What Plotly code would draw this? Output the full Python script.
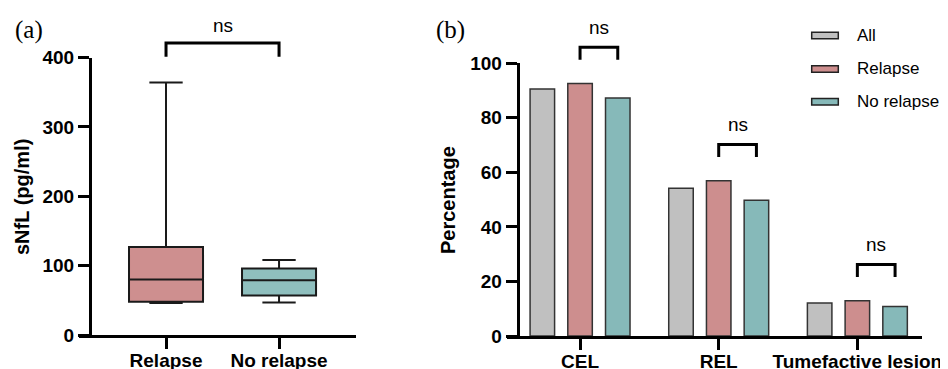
import plotly.graph_objects as go

# The page body has an 8px margin; the figure is sized to the visible area
OFF = 8
W, H = 948 - OFF, 369 - OFF

def px(x):
    return (x - OFF) / W

def py(y):
    return 1 - (y - OFF) / H

# ---------------- data ----------------
box_groups = ["Relapse", "No relapse"]
box_q1 = [48, 57]
box_median = [80, 79]
box_q3 = [127, 96]
box_lower = [46, 47]
box_upper = [364, 108]
box_colors = ["#CE8F8F", "#8FBFBE"]

lesion_types = ["CEL", "REL", "Tumefactive lesion"]
pct_all = [90.6, 54.2, 12.1]
pct_relapse = [92.6, 56.9, 12.9]
pct_norelapse = [87.3, 49.8, 10.8]
series_names = ["All", "Relapse", "No relapse"]
bar_colors = ["#C0C0C0", "#CD8E8E", "#86B9B9"]
bar_series = [pct_all, pct_relapse, pct_norelapse]

a_ticks = [0, 100, 200, 300, 400]
b_ticks = [0, 20, 40, 60, 80, 100]

# ---------------- layout params ----------------
ya_dom = [py(335), py(57.5)]
yb_dom = [py(336), py(63.3)]
ya_rng = [0, 400]
yb_rng = [0, 100]
bargap, bargroupgap = 0.184, 0.35
slot = (1 - bargap) / 3

def ya_paper(v):
    return ya_dom[0] + (v - ya_rng[0]) / (ya_rng[1] - ya_rng[0]) * (ya_dom[1] - ya_dom[0])

def yb_paper(v):
    return yb_dom[0] + (v - yb_rng[0]) / (yb_rng[1] - yb_rng[0]) * (yb_dom[1] - yb_dom[0])

FONT = "Liberation Sans, Arial, sans-serif"
SERIF = "Liberation Serif, Times New Roman, serif"

fig = go.Figure()

for i, g in enumerate(box_groups):
    fig.add_trace(go.Box(
        x=[g], q1=[box_q1[i]], median=[box_median[i]], q3=[box_q3[i]],
        lowerfence=[box_lower[i]], upperfence=[box_upper[i]],
        fillcolor=box_colors[i], line=dict(color="#1a1a1a", width=2),
        width=0.655, whiskerwidth=0.45, boxpoints=False, showlegend=False,
        xaxis="x", yaxis="y", name=g,
    ))

for s, name in enumerate(series_names):
    fig.add_trace(go.Bar(
        x=list(range(len(lesion_types))), y=bar_series[s], name=name,
        marker=dict(color=bar_colors[s], line=dict(color="#333333", width=1.5)),
        xaxis="x2", yaxis="y2", showlegend=False,
    ))

axis_common = dict(
    showline=True, linewidth=3, linecolor="black", ticks="outside", ticklen=11,
    tickwidth=3, tickcolor="black", showgrid=False, zeroline=False, automargin=False,
    tickfont=dict(family=FONT, size=19, color="black", weight="bold"),
)
xaxis_extra = dict(ticklabelstandoff=-5)

shapes = []
annotations = []

# Panel a bracket
shapes.append(dict(type="path", xref="x", yref="paper",
                   path=f"M 0,{ya_paper(401)} L 0,{ya_paper(421)} L 1,{ya_paper(421)} L 1,{ya_paper(401)}",
                   line=dict(color="black", width=3)))
annotations.append(dict(x=0.5, y=ya_paper(446), xref="x", yref="paper", text="ns", showarrow=False,
                        font=dict(family=FONT, size=19, color="black"), xanchor="center", yanchor="middle"))

# Panel b brackets
for i in range(len(lesion_types)):
    top = max(pct_all[i], pct_relapse[i], pct_norelapse[i])
    x0 = i + 0.0
    x1 = i + slot
    leg = yb_paper(top + 8.7)
    hz = yb_paper(top + 13.3)
    shapes.append(dict(type="path", xref="x2", yref="paper",
                       path=f"M {x0},{leg} L {x0},{hz} L {x1},{hz} L {x1},{leg}",
                       line=dict(color="black", width=3)))
    annotations.append(dict(x=(x0 + x1) / 2, y=yb_paper(top + 20.6), xref="x2", yref="paper", text="ns",
                            showarrow=False, font=dict(family=FONT, size=19, color="black"),
                            xanchor="center", yanchor="middle"))

# legend
leg_y = [35.5, 69, 101.7]
for s, name in enumerate(series_names):
    shapes.append(dict(type="rect", xref="paper", yref="paper",
                       x0=px(811.7), x1=px(838.3), y0=py(leg_y[s] - 3.3), y1=py(leg_y[s] + 3.3),
                       fillcolor=bar_colors[s], line=dict(color="#222222", width=1.5)))
    annotations.append(dict(x=px(855), y=py(leg_y[s]), xref="paper", yref="paper", text=name,
                            showarrow=False, xanchor="left", yanchor="middle",
                            font=dict(family=FONT, size=17, color="black")))

# panel labels and y titles
annotations.append(dict(x=px(29), y=py(30), xref="paper", yref="paper", text="(a)", showarrow=False,
                        xanchor="center", yanchor="middle",
                        font=dict(family=SERIF, size=25, color="black")))
annotations.append(dict(x=px(450), y=py(30), xref="paper", yref="paper", text="(b)", showarrow=False,
                        xanchor="center", yanchor="middle",
                        font=dict(family=SERIF, size=25, color="black")))
annotations.append(dict(x=px(22), y=py(197), xref="paper", yref="paper", text="sNfL (pg/ml)", showarrow=False,
                        textangle=-90, xanchor="center", yanchor="middle",
                        font=dict(family=FONT, size=20, color="black", weight="bold")))
annotations.append(dict(x=px(448), y=py(200), xref="paper", yref="paper", text="Percentage", showarrow=False,
                        textangle=-90, xanchor="center", yanchor="middle",
                        font=dict(family=FONT, size=20, color="black", weight="bold")))

fig.update_layout(
    template="none",
    width=W, height=H, autosize=False,
    margin=dict(l=0, r=0, t=0, b=0, autoexpand=False),
    paper_bgcolor="white", plot_bgcolor="white",
    boxmode="overlay", barmode="group", bargap=bargap, bargroupgap=bargroupgap,
    xaxis=dict(domain=[px(79), px(356)], range=[-0.770, 1.681], type="category",
               categoryorder="array", categoryarray=box_groups, anchor="y", **axis_common, **xaxis_extra),
    yaxis=dict(domain=ya_dom, range=ya_rng, anchor="free", position=px(90),
               tickvals=a_ticks, **axis_common),
    xaxis2=dict(domain=[px(506.7), min(1.0, px(921.7))], range=[-0.529, 2.464],
                tickvals=list(range(len(lesion_types))), ticktext=lesion_types, anchor="y2",
                **axis_common, **xaxis_extra),
    yaxis2=dict(domain=yb_dom, range=yb_rng, anchor="free", position=px(517.7),
                tickvals=b_ticks, **axis_common),
    shapes=shapes, annotations=annotations, showlegend=False,
)

fig.write_html("out.html")
